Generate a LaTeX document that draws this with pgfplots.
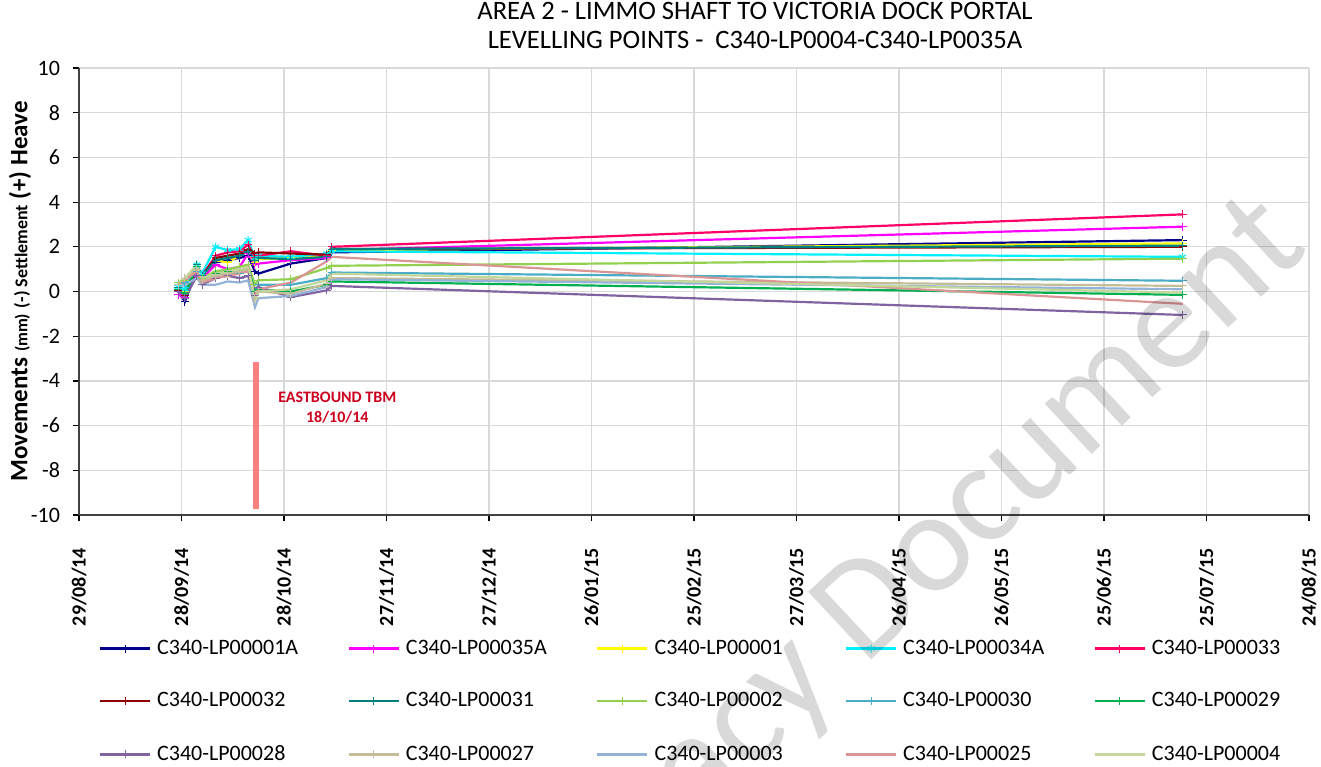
\documentclass[border=0pt]{standalone}
\usepackage{pgfplots}
\pgfplotsset{compat=1.18}
\usepackage{pgfplotstable}
\usepackage{fontspec}
\setmainfont{Carlito}

\definecolor{cA01A}{RGB}{0,0,139}
\definecolor{cA35A}{RGB}{255,0,255}
\definecolor{cA01}{RGB}{255,255,0}
\definecolor{cA34A}{RGB}{0,240,255}
\definecolor{cA33}{RGB}{255,0,102}
\definecolor{cA32}{RGB}{140,0,0}
\definecolor{cA31}{RGB}{0,128,128}
\definecolor{cA02}{RGB}{146,208,80}
\definecolor{cA30}{RGB}{75,172,198}
\definecolor{cA29}{RGB}{0,176,80}
\definecolor{cA28}{RGB}{128,100,162}
\definecolor{cA27}{RGB}{196,189,151}
\definecolor{cA03}{RGB}{149,179,215}
\definecolor{cA25}{RGB}{217,150,148}
\definecolor{cA04}{RGB}{195,214,155}
\definecolor{gridgray}{RGB}{217,217,217}
\definecolor{tbmbar}{RGB}{255,128,128}
\definecolor{tbmtext}{RGB}{204,0,30}

% d = days after 29/08/14
\pgfplotstableread{
d     A01A  A35A  A01   A34A  A33   A32   A31   A02   A30   A29   A28   A27   A03   A25   A04
29    0.00 -0.15  0.10  0.20  0.10  0.05  0.20  0.40  0.30  0.10  0.00  0.30  0.20  0.30  0.40
31   -0.45 -0.25  0.00  0.10 -0.10 -0.20 -0.30  0.50  0.40 -0.10 -0.30  0.60  0.30  0.50  0.60
34.5  1.00  1.00  1.10  1.20  1.10  1.10  1.20  1.00  0.90  1.10  0.70  1.00  0.60  0.90  1.20
36    0.60  0.60  0.70  0.80  0.70  0.70  0.70  0.60  0.50  0.50  0.30  0.50  0.30  0.40  0.60
40    1.30  1.20  1.40  2.00  1.60  1.50  1.40  0.90  0.70  0.80  0.60  0.70  0.30  0.60  0.80
43.5  1.40  1.00  1.30  1.85  1.75  1.60  1.50  1.00  0.80  0.90  0.70  0.80  0.45  0.70  0.90
47    1.50  1.10  1.60  1.90  1.80  1.70  1.60  1.10  0.80  0.90  0.60  0.90  0.40  0.80  1.00
49.5  1.60  1.70  1.80  2.30  2.10  1.90  1.80  1.20  1.00  1.00  0.70  1.00  0.50  0.90  1.10
51.5  0.90  1.20  1.30  1.50  1.50  1.70  1.40  0.30  0.00  0.00 -0.20 -0.30 -0.70 -0.10 -0.40
52.5  0.80  1.25  1.45  1.60  1.60  1.75  1.50  0.50  0.30  0.10  0.20  0.00 -0.30  0.10  0.00
62    1.25  1.40  1.50  1.55  1.80  1.70  1.45  0.55  0.30  0.00 -0.25 -0.10 -0.20  0.40  0.10
72.5  1.50  1.50  1.60  1.70  1.60  1.65  1.55  1.05  0.60  0.30  0.05  0.35  0.20  1.35  0.50
74    1.75  1.85  1.85  1.80  2.00  1.90  1.90  1.15  0.85  0.45  0.25  0.60  0.55  1.55  0.80
323   2.30  2.90  2.15  1.55  3.45  2.00  2.05  1.47  0.48 -0.15 -1.05  0.25  0.10 -0.55 -0.05
}\lp

\begin{document}
\begin{tikzpicture}
\begin{axis}[
    name=ax,
    scale only axis,
    width=615pt, height=223.5pt,
    xmin=0, xmax=360, ymin=-10, ymax=10,
    xtick={0,30,...,360},
    xticklabels={29/08/14,28/09/14,28/10/14,27/11/14,27/12/14,26/01/15,25/02/15,27/03/15,26/04/15,26/05/15,25/06/15,25/07/15,24/08/15},
    ytick={-10,-8,...,10},
    axis lines=left,
    axis line style={-, draw=black!75, line width=0.8pt},
    grid=major,
    grid style={draw=gridgray, line width=0.6pt},
    tick align=outside,
    major tick length=3pt,
    tick style={black, line width=0.6pt},
    /pgf/number format/assume math mode=true,
    xticklabel style={rotate=90, anchor=east, font=\bfseries\fontsize{10}{12}\selectfont},
    xticklabel shift=10pt,
    yticklabel style={font=\fontsize{11}{13}\selectfont},
    yticklabel shift=3pt,
    ylabel={\bfseries\fontsize{12.5}{14}\selectfont Movements {\fontsize{8.5}{10}\selectfont (mm)} {\fontsize{9}{10}\selectfont (-) Settlement} (+) Heave},
    ylabel style={at={(axis description cs:-0.048,0.5)}, anchor=center},
    title={AREA 2 - LIMMO SHAFT TO VICTORIA DOCK PORTAL\\LEVELLING POINTS -\ \ C340-LP0004-C340-LP0035A},
    title style={at={(axis description cs:0.5496,1)}, anchor=south, align=center, font=\fontsize{13.3}{14.5}\selectfont},
    legend columns=5,
    legend style={at={(axis description cs:0.011,-0.265)}, anchor=north west, draw=none, fill=none,
        font=\fontsize{11}{13}\selectfont, row sep=15.75pt,
        /tikz/every odd column/.append style={column sep=2pt},
        nodes={text width=94.25pt, inner sep=1pt}},
    legend cell align=left,
    legend image code/.code={\draw[mark repeat=2,mark phase=2,#1] plot coordinates {(0pt,0pt) (12.5pt,0pt) (25pt,0pt)};},
    lp/.style={line width=1.1pt, mark=+, mark size=2pt, mark options={solid, line width=0.5pt}},
    lpn/.style={line width=1.1pt, mark=none},
]
\addplot[lp, cA01A] table[x=d, y=A01A]{\lp}; \addlegendentry{C340-LP00001A}
\addplot[lp, cA35A] table[x=d, y=A35A]{\lp}; \addlegendentry{C340-LP00035A}
\addplot[lp, cA01] table[x=d, y=A01]{\lp}; \addlegendentry{C340-LP00001}
\addplot[lp, cA34A, mark=asterisk] table[x=d, y=A34A]{\lp}; \addlegendentry{C340-LP00034A}
\addplot[lp, cA33] table[x=d, y=A33]{\lp}; \addlegendentry{C340-LP00033}
\addplot[lp, cA32] table[x=d, y=A32]{\lp}; \addlegendentry{C340-LP00032}
\addplot[lp, cA31] table[x=d, y=A31]{\lp}; \addlegendentry{C340-LP00031}
\addplot[lp, cA02] table[x=d, y=A02]{\lp}; \addlegendentry{C340-LP00002}
\addplot[lp, cA30] table[x=d, y=A30]{\lp}; \addlegendentry{C340-LP00030}
\addplot[lp, cA29] table[x=d, y=A29]{\lp}; \addlegendentry{C340-LP00029}
\addplot[lp, cA28] table[x=d, y=A28]{\lp}; \addlegendentry{C340-LP00028}
\addplot[lp, cA27] table[x=d, y=A27]{\lp}; \addlegendentry{C340-LP00027}
\addplot[lpn, cA03] table[x=d, y=A03]{\lp}; \addlegendentry{C340-LP00003}
\addplot[lpn, cA25] table[x=d, y=A25]{\lp}; \addlegendentry{C340-LP00025}
\addplot[lpn, cA04] table[x=d, y=A04]{\lp}; \addlegendentry{C340-LP00004}
% eastbound TBM marker
\addplot[tbmbar, line width=3pt, forget plot] coordinates {(51.7,-3.15) (51.7,-9.75)};
\node[text=tbmtext, font=\bfseries\fontsize{8}{10}\selectfont, align=center] at (axis cs:75.6,-5.21) {EASTBOUND TBM\\18/10/14};
\end{axis}
\pgfresetboundingbox
\path[use as bounding box] ([shift={(-39.5pt,-125.5pt)}]ax.south west) rectangle ([shift={(621pt,257.5pt)}]ax.south west);
\begin{scope}
\clip ([shift={(-39.5pt,-125.5pt)}]ax.south west) rectangle ([shift={(621pt,257.5pt)}]ax.south west);
\node[rotate=43, text=black, opacity=0.15, font=\fontsize{72}{76}\selectfont] at ([shift={(415pt,-32pt)}]ax.south west) {Legacy Document};
\end{scope}
\end{tikzpicture}
\end{document}
